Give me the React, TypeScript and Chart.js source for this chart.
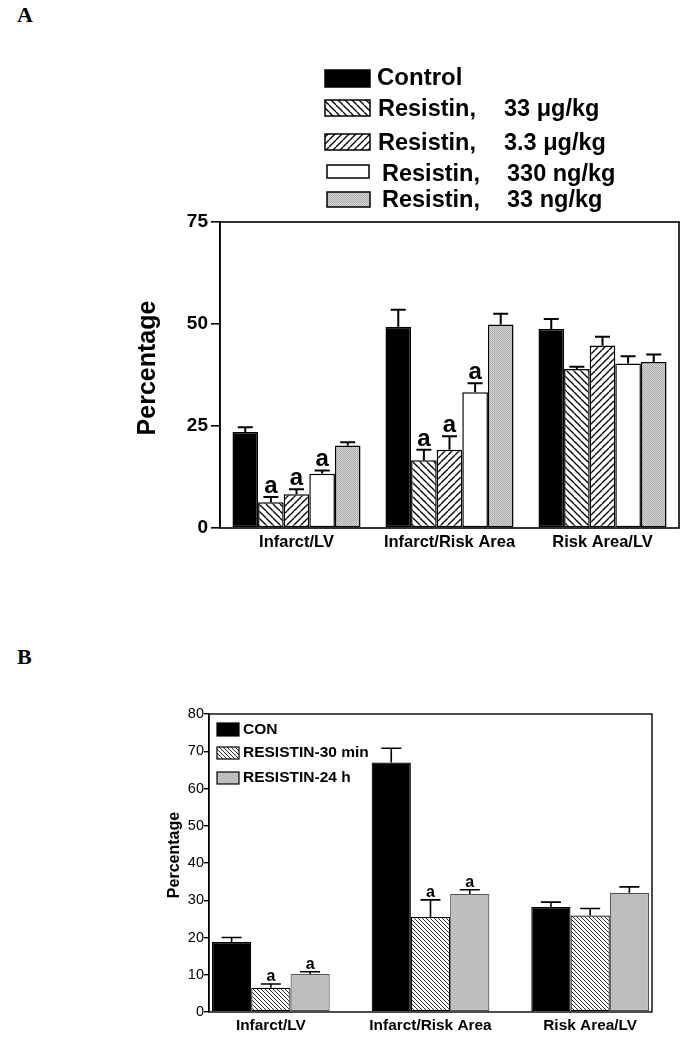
import React, { useEffect, useRef } from 'react';
import { Chart, registerables } from 'chart.js';

Chart.register(...registerables);

const FONT = '"Liberation Sans", Arial, Helvetica, sans-serif';

// ---------- shared categories ----------
const categories = ['Infarct/LV', 'Infarct/Risk Area', 'Risk Area/LV'];

// ---------- Panel A ----------
const legendLabelsA = [
  'Control',
  'Resistin, 33 μg/kg',
  'Resistin, 3.3 μg/kg',
  'Resistin, 330 ng/kg',
  'Resistin, 33 ng/kg',
];
const controlA = [23.5, 49.3, 48.8];
const controlASem = [1.2, 4.2, 2.4];
const res33ugA = [6.3, 16.6, 39.0];
const res33ugASem = [1.3, 2.6, 0.5];
const res3p3ugA = [8.3, 19.2, 44.7];
const res3p3ugASem = [1.2, 3.3, 2.2];
const res330ngA = [13.3, 33.3, 40.3];
const res330ngASem = [0.8, 2.2, 1.8];
const res33ngA = [20.2, 49.9, 40.7];
const res33ngASem = [0.8, 2.6, 1.8];
const sigNone = ['', '', ''];
const sigA = ['a', 'a', ''];
const yTicksA = [0, 25, 50, 75];

// ---------- Panel B ----------
const legendLabelsB = ['CON', 'RESISTIN-30 min', 'RESISTIN-24 h'];
const conB = [18.8, 67.0, 28.2];
const conBSem = [1.2, 3.8, 1.3];
const res30minB = [6.5, 25.5, 25.9];
const res30minBSem = [1.0, 4.6, 1.9];
const res24hB = [10.2, 31.7, 32.0];
const res24hBSem = [0.6, 1.1, 1.6];
const sigB = ['a', 'a', ''];
const yTicksB = [0, 10, 20, 30, 40, 50, 60, 70, 80];

// ---------- patterns ----------
function makeHatch(
  ctx: CanvasRenderingContext2D,
  size: number,
  dir: 'back' | 'fwd',
  lineWidth: number,
  color: string,
  bg: string
) {
  const c = document.createElement('canvas');
  c.width = size;
  c.height = size;
  const g = c.getContext('2d')!;
  g.fillStyle = bg;
  g.fillRect(0, 0, size, size);
  g.strokeStyle = color;
  g.lineWidth = lineWidth;
  for (let k = -1; k <= 1; k++) {
    g.beginPath();
    if (dir === 'back') {
      g.moveTo(0, k * size);
      g.lineTo(size, size + k * size);
    } else {
      g.moveTo(0, size + k * size);
      g.lineTo(size, k * size);
    }
    g.stroke();
  }
  return ctx.createPattern(c, 'repeat')!;
}

function makeStipple(ctx: CanvasRenderingContext2D, c1: string, c2: string) {
  const c = document.createElement('canvas');
  c.width = 2;
  c.height = 2;
  const g = c.getContext('2d')!;
  g.fillStyle = c1;
  g.fillRect(0, 0, 2, 2);
  g.fillStyle = c2;
  g.fillRect(0, 0, 1, 1);
  g.fillRect(1, 1, 1, 1);
  return ctx.createPattern(c, 'repeat')!;
}

// ---------- plugins ----------
const errorBarsPlugin = {
  id: 'errorBars',
  afterDatasetsDraw(chart: any, _args: any, opts: any) {
    const ctx = chart.ctx;
    const yScale = chart.scales.y;
    ctx.save();
    chart.data.datasets.forEach((ds: any, di: number) => {
      const meta = chart.getDatasetMeta(di);
      meta.data.forEach((bar: any, i: number) => {
        const parsed = meta.controller.getParsed(i);
        const mean = parsed.y;
        const sem = ds.sem ? ds.sem[i] : 0;
        const top = yScale.getPixelForValue(mean + sem);
        const x = bar.x;
        ctx.strokeStyle = '#000';
        ctx.lineWidth = opts.lineWidth;
        ctx.beginPath();
        ctx.moveTo(x, bar.y);
        ctx.lineTo(x, top);
        ctx.moveTo(x - opts.capWidth / 2, top);
        ctx.lineTo(x + opts.capWidth / 2, top);
        ctx.stroke();
        const s = ds.sig ? ds.sig[i] : '';
        if (s) {
          ctx.fillStyle = '#000';
          ctx.font = opts.sigFont;
          ctx.textAlign = 'center';
          ctx.textBaseline = 'alphabetic';
          ctx.fillText(s, x, top - opts.sigGap);
        }
      });
    });
    ctx.restore();
  },
};

const framePlugin = {
  id: 'frame',
  afterDatasetsDraw(chart: any, _args: any, opts: any) {
    const { left, top, right, bottom } = chart.chartArea;
    const ctx = chart.ctx;
    ctx.save();
    ctx.strokeStyle = '#000';
    ctx.lineWidth = opts.lineWidth;
    ctx.strokeRect(left, top, right - left, bottom - top);
    ctx.restore();
  },
};

const decorPlugin = {
  id: 'decor',
  afterDraw(chart: any, _args: any, opts: any) {
    const ctx = chart.ctx;
    ctx.save();
    // y title
    if (opts.title) {
      const t = opts.title;
      ctx.translate(t.x, t.y);
      ctx.rotate(-Math.PI / 2);
      ctx.fillStyle = '#000';
      ctx.font = t.font;
      ctx.textAlign = 'center';
      ctx.textBaseline = 'middle';
      ctx.fillText(t.text, 0, 0);
      ctx.setTransform(1, 0, 0, 1, 0, 0);
    }
    // legend
    (opts.legend || []).forEach((it: any, i: number) => {
      const ds = chart.data.datasets[i];
      ctx.fillStyle = ds.backgroundColor;
      ctx.fillRect(it.x, it.y, it.w, it.h);
      ctx.strokeStyle = '#000';
      ctx.lineWidth = it.lw;
      ctx.strokeRect(it.x, it.y, it.w, it.h);
      ctx.fillStyle = '#000';
      ctx.font = it.font;
      ctx.textAlign = 'left';
      ctx.textBaseline = 'middle';
      const label: string = ds.label;
      const parts = it.doseX ? label.split(', ') : [label];
      if (parts.length > 1) {
        ctx.fillText(parts[0] + ',', it.textX, it.textY);
        ctx.fillText(parts[1], it.doseX, it.textY);
      } else {
        ctx.fillText(label, it.textX, it.textY);
      }
    });
    ctx.restore();
  },
};

function ChartA() {
  const ref = useRef<HTMLCanvasElement>(null);
  useEffect(() => {
    const canvas = ref.current!;
    const ctx = canvas.getContext('2d')!;
    const pBack = makeHatch(ctx, 7, 'back', 1.3, '#000', '#fff');
    const pFwd = makeHatch(ctx, 7, 'fwd', 1.3, '#000', '#fff');
    const pDots = makeStipple(ctx, '#d6d6d6', '#ababab');
    const mk = (label: string, data: number[], sem: number[], sig: string[], bg: any) => ({
      label,
      data,
      sem,
      sig,
      backgroundColor: bg,
      borderColor: '#000',
      borderWidth: 1.5,
      borderSkipped: false,
      categoryPercentage: 0.837,
      barPercentage: 1,
    });
    const chart = new Chart(canvas, {
      type: 'bar',
      data: {
        labels: categories,
        datasets: [
          mk(legendLabelsA[0], controlA, controlASem, sigNone, '#000'),
          mk(legendLabelsA[1], res33ugA, res33ugASem, sigA, pBack),
          mk(legendLabelsA[2], res3p3ugA, res3p3ugASem, sigA, pFwd),
          mk(legendLabelsA[3], res330ngA, res330ngASem, sigA, '#fff'),
          mk(legendLabelsA[4], res33ngA, res33ngASem, sigNone, pDots),
        ] as any,
      },
      options: {
        animation: false,
        responsive: false,
        devicePixelRatio: 1,
        layout: { padding: { left: 0, top: 222, right: 6, bottom: 0 } },
        plugins: {
          legend: { display: false },
          tooltip: { enabled: false },
          errorBars: { capWidth: 15, lineWidth: 2, sigFont: `bold 24px ${FONT}`, sigGap: 4 },
          frame: { lineWidth: 1.6 },
          decor: {
            title: { text: 'Percentage', x: 148, y: 368, font: `bold 25px ${FONT}` },
            legend: [
              { x: 325, y: 70, w: 45, h: 17, lw: 1.5, textX: 377, textY: 78, font: `bold 24px ${FONT}` },
              { x: 325, y: 100, w: 45, h: 16, lw: 1.5, textX: 378, textY: 110, doseX: 504, font: `bold 23.5px ${FONT}` },
              { x: 325, y: 134, w: 45, h: 16, lw: 1.5, textX: 378, textY: 144, doseX: 504, font: `bold 23.5px ${FONT}` },
              { x: 327, y: 165, w: 42, h: 13, lw: 1.5, textX: 382, textY: 175, doseX: 507, font: `bold 23.5px ${FONT}` },
              { x: 327, y: 192, w: 43, h: 15, lw: 1.5, textX: 382, textY: 201, doseX: 507, font: `bold 23.5px ${FONT}` },
            ],
          },
        } as any,
        scales: {
          x: {
            grid: { display: false, drawTicks: false },
            border: { display: false },
            ticks: { color: '#000', font: { family: FONT, size: 16.5, weight: 'bold' }, padding: 5, maxRotation: 0, autoSkip: false },
            afterFit: (s: any) => { s.height = 32; },
          },
          y: {
            min: 0,
            max: 75,
            afterBuildTicks: (s: any) => { s.ticks = yTicksA.map((v) => ({ value: v })); },
            grid: { display: true, drawOnChartArea: false, drawTicks: true, tickLength: 9, color: '#000', lineWidth: 1.6 },
            border: { display: true, color: '#000', width: 1.6 },
            ticks: { color: '#000', font: { family: FONT, size: 19, weight: 'bold' }, padding: 3 },
            afterFit: (s: any) => { s.width = 220; },
          },
        } as any,
      },
      plugins: [errorBarsPlugin, framePlugin, decorPlugin],
    });
    return () => chart.destroy();
  }, []);
  return <canvas ref={ref} width={685} height={560} style={{ display: 'block', width: 685, height: 560 }} />;
}

function ChartB() {
  const ref = useRef<HTMLCanvasElement>(null);
  useEffect(() => {
    const canvas = ref.current!;
    const ctx = canvas.getContext('2d')!;
    const pBack = makeHatch(ctx, 4, 'back', 1, '#2a2a2a', '#fff');
    const toXY = (arr: number[]) => arr.map((v, i) => ({ x: i, y: v }));
    const mk = (label: string, data: number[], sem: number[], sig: string[], bg: any, bc: string) => ({
      label,
      data: toXY(data),
      sem,
      sig,
      backgroundColor: bg,
      borderColor: bc,
      borderWidth: 1.2,
      borderSkipped: false,
      categoryPercentage: 0.7375,
      barPercentage: 1,
    });
    const chart = new Chart(canvas, {
      type: 'bar',
      data: {
        datasets: [
          mk(legendLabelsB[0], conB, conBSem, sigNone, '#000', '#000'),
          mk(legendLabelsB[1], res30minB, res30minBSem, sigB, pBack, '#000'),
          mk(legendLabelsB[2], res24hB, res24hBSem, sigB, '#bebebe', '#555'),
        ] as any,
      },
      options: {
        animation: false,
        responsive: false,
        devicePixelRatio: 1,
        layout: { padding: { left: 0, top: 74, right: 33, bottom: 0 } },
        plugins: {
          legend: { display: false },
          tooltip: { enabled: false },
          errorBars: { capWidth: 20, lineWidth: 1.6, sigFont: `bold 16px ${FONT}`, sigGap: 3 },
          frame: { lineWidth: 1.4 },
          decor: {
            title: { text: 'Percentage', x: 175, y: 215, font: `bold 16px ${FONT}` },
            legend: [
              { x: 217, y: 83, w: 22, h: 13, lw: 1.2, textX: 243, textY: 90, font: `bold 15.5px ${FONT}` },
              { x: 217, y: 107, w: 22, h: 12, lw: 1.2, textX: 243, textY: 113, font: `bold 15.5px ${FONT}` },
              { x: 217, y: 132, w: 22, h: 12, lw: 1.2, textX: 243, textY: 138, font: `bold 15.5px ${FONT}` },
            ],
          },
        } as any,
        scales: {
          x: {
            type: 'linear',
            min: -0.3875,
            max: 2.3875,
            offset: false,
            afterBuildTicks: (s: any) => { s.ticks = categories.map((_, i) => ({ value: i })); },
            grid: { display: false, drawTicks: false, offset: false },
            border: { display: false },
            ticks: {
              color: '#000',
              font: { family: FONT, size: 15.4, weight: 'bold' },
              padding: 5,
              maxRotation: 0,
              autoSkip: false,
              callback: (v: any) => categories[v] ?? '',
            },
            afterFit: (s: any) => { s.height = 25; },
          },
          y: {
            min: 0,
            max: 80,
            afterBuildTicks: (s: any) => { s.ticks = yTicksB.map((v) => ({ value: v })); },
            grid: { display: true, drawOnChartArea: false, drawTicks: true, tickLength: 5, color: '#000', lineWidth: 1.4 },
            border: { display: true, color: '#000', width: 1.4 },
            ticks: { color: '#000', font: { family: FONT, size: 14.5 }, padding: 0 },
            afterFit: (s: any) => { s.width = 209; },
          },
        } as any,
      },
      plugins: [errorBarsPlugin, framePlugin, decorPlugin],
    });
    return () => chart.destroy();
  }, []);
  return <canvas ref={ref} width={685} height={397} style={{ display: 'block', width: 685, height: 397 }} />;
}

export default function App() {
  const panelLabel: React.CSSProperties = {
    position: 'absolute',
    left: 17,
    font: 'bold 22px "Liberation Serif", "Times New Roman", serif',
    lineHeight: '22px',
    color: '#000',
  };
  return (
    <div style={{ position: 'absolute', left: 0, top: 0, width: 685, height: 1037, background: '#fff', overflow: 'hidden' }}>
      <div style={{ ...panelLabel, top: 4 }}>A</div>
      <div style={{ position: 'absolute', left: 0, top: 0 }}>
        <ChartA />
      </div>
      <div style={{ ...panelLabel, top: 646 }}>B</div>
      <div style={{ position: 'absolute', left: 0, top: 640 }}>
        <ChartB />
      </div>
    </div>
  );
}
